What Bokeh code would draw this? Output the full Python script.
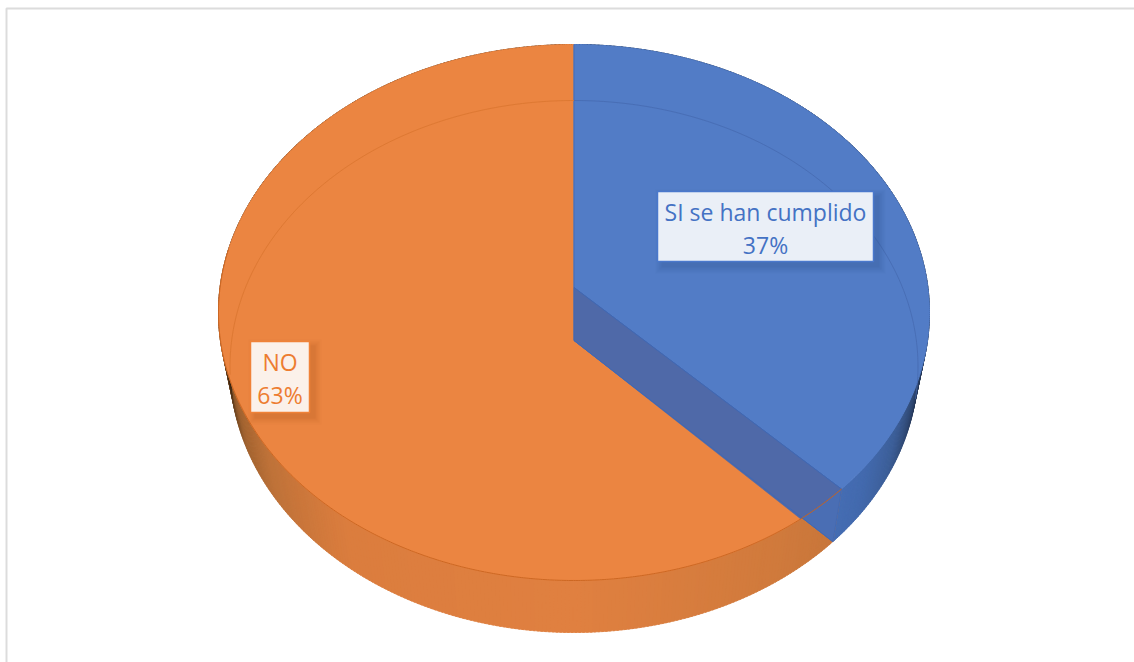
import numpy as np
from bokeh.core.properties import value
from bokeh.embed import file_html
from bokeh.models import Range1d
from bokeh.plotting import figure
from bokeh.resources import INLINE

# Survey answers, in percent, starting at twelve o'clock and running clockwise
categories = ["SI se han cumplido", "NO"]
shares = [37, 63]

WIDTH, HEIGHT = 1134, 662
CX = 573.5
TOP = dict(cy=312.0, rx=355.5, ry=268.0, hub=287.0)
BASE = dict(cy=366.0, rx=344.0, ry=266.0, hub=340.0)
PERSPECTIVE = 0.047

ORANGE_TOP, BLUE_TOP = "#EB8541", "#527CC6"
ORANGE_EDGE, BLUE_EDGE = "#C9641F", "#3F68B4"
WALL, WALL_LOWER = "#4F69A8", "#4A6EB4"

# Side-wall shading stops: rim angle in degrees and colour
BLUE_SHADE = [(0, "#0C1420"), (88, "#0C1420"), (96, "#18253C"), (104, "#2B4066"),
              (115, "#3C5E98"), (125, "#436AAE"), (140, "#4872BA")]
ORANGE_SHADE = [(125, "#C4743A"), (145, "#D07A3C"), (180, "#E08040"), (220, "#DB7D3E"),
                (240, "#BE7239"), (252, "#A0622F"), (262, "#64401F"), (268, "#20150B"),
                (360, "#20150B")]


def rim_angle(theta):
    """Share angle to ellipse parameter, allowing for the tilt of the disc."""
    return np.arctan2(np.sin(theta) * np.sqrt(1 - PERSPECTIVE ** 2), np.cos(theta) + PERSPECTIVE)


def rim(phi, plane):
    return CX + plane["rx"] * np.sin(phi), plane["cy"] - plane["ry"] * np.cos(phi)


def shade(stops, deg):
    angles = [s[0] for s in stops]
    rgb = np.array([[int(s[1][i:i + 2], 16) for i in (1, 3, 5)] for s in stops], float)
    return "#%02x%02x%02x" % tuple(int(round(np.interp(deg, angles, rgb[:, c]))) for c in range(3))


split_theta = 2 * np.pi * shares[0] / sum(shares)
split = rim_angle(split_theta)
if split < 0:
    split += 2 * np.pi

p = figure(width=WIDTH, height=HEIGHT, x_range=Range1d(0, WIDTH), y_range=Range1d(HEIGHT, 0),
           output_backend="svg", toolbar_location=None, min_border=0)
p.axis.visible = False
p.grid.visible = False
p.outline_line_color = None
p.background_fill_color = "white"
p.border_fill_color = "white"

# Chart frame: only the top and left edges fall inside the page
p.line([6, 6, WIDTH], [HEIGHT, 8, 8], line_color="#DCDCDC", line_width=2)


def side_strips(start, stop, stops):
    edges = np.linspace(start, stop, int((stop - start) * 90) + 2)
    xs, ys, colors = [], [], []
    for a, b in zip(edges[:-1], edges[1:]):
        b2 = min(b + 0.006, stop)
        xa, ya = rim(a, TOP)
        xb, yb = rim(b2, TOP)
        xc, yc = rim(b2, BASE)
        xd, yd = rim(a, BASE)
        xs.append([xa, xb, xc, xd])
        ys.append([ya, yb, yc, yd])
        colors.append(shade(stops, np.degrees((a + b) / 2)))
    p.patches(xs, ys, fill_color=colors, line_color=colors, line_width=0.6)


side_strips(0, split, BLUE_SHADE)
side_strips(split, 2 * np.pi, ORANGE_SHADE)

# Top surface of both slices
arc_blue = np.linspace(0, split, 300)
arc_orange = np.linspace(split, 2 * np.pi, 600)
bx, by = rim(arc_blue, TOP)
ox, oy = rim(arc_orange, TOP)
p.patch(np.r_[CX, ox], np.r_[TOP["hub"], oy], fill_color=ORANGE_TOP, line_color=ORANGE_TOP, line_width=1)
p.line(ox[:400], oy[:400], line_color=ORANGE_EDGE, line_width=1, line_alpha=0.9)
p.patch(np.r_[CX, bx], np.r_[TOP["hub"], by], fill_color=BLUE_TOP, line_color=BLUE_TOP, line_width=1)

# Cut face of the blue slice, standing in front of the orange surface
sx_top, sy_top = rim(split, TOP)
sx_base, sy_base = rim(split, BASE)
p.patch([CX, sx_top, sx_base, CX], [TOP["hub"], sy_top, sy_base, BASE["hub"]],
        fill_color=WALL_LOWER, line_color=WALL_LOWER, line_width=0.8)

# The part of the face that lies behind the rim of the top surface is a shade darker
t = (ox - CX) / (sx_base - CX)
below = oy - (BASE["hub"] + t * (sy_base - BASE["hub"]))
cross = int(np.argmax(below > 0))
p.patch(np.r_[CX, ox[:cross + 1], CX], np.r_[TOP["hub"], oy[:cross + 1], BASE["hub"]],
        fill_color=WALL, line_color=WALL, line_width=0.5)

# Edges of the cut face
p.line([CX, sx_top], [TOP["hub"], sy_top], line_color=BLUE_EDGE, line_width=1)
p.line([CX, CX], [44, BASE["hub"]], line_color=BLUE_EDGE, line_width=1, line_alpha=0.75)
p.line([CX, sx_base], [BASE["hub"], sy_base], line_color=BLUE_EDGE, line_width=1)
p.line([sx_top, sx_base], [sy_top, sy_base], line_color=BLUE_EDGE, line_width=1, line_alpha=0.8)
p.line(ox[:cross + 1], oy[:cross + 1], line_color=ORANGE_EDGE, line_width=1)

# Base rim showing faintly through the translucent top
fb = np.linspace(split, 2 * np.pi, 400)
xf, yf = rim(fb, BASE)
keep = yf < 375
p.line(xf[keep], yf[keep], line_color="#D9762F", line_width=1, line_alpha=0.8)
fb = np.linspace(0, np.radians(97), 120)
xf, yf = rim(fb, BASE)
p.line(xf, yf, line_color="#4468AE", line_width=1, line_alpha=0.7)


def label_box(left, right, top, bottom, fill, edge, shadow, lines, color, centre):
    for grow, alpha in ((7, 0.05), (5, 0.07), (3, 0.09), (1, 0.12)):
        p.quad(left=left + 5 - grow, right=right + 5 + grow, top=top + 5 - grow, bottom=bottom + 5 + grow,
               fill_color=shadow, fill_alpha=alpha, line_color=None)
    p.quad(left=left, right=right, top=top, bottom=bottom, fill_color=fill,
           line_color=edge, line_width=1.5)
    for text, y in lines:
        p.text([centre], [y], text=[text], text_color=color, text_font=value("Open Sans"),
               text_font_size="23px", text_align="center", text_baseline="middle")


label_box(657, 873, 191, 261, "#EAEFF7", "#4A78CC", "#2F4F8F",
          [(categories[0], 211), (f"{shares[0]}%", 244)], "#4472C4", 765)
label_box(250, 309, 341, 412, "#FBF1EA", "#F08238", "#B05A20",
          [(categories[1], 361), (f"{shares[1]}%", 394)], "#ED7D31", 279.5)

open("out.html", "w").write(file_html(p, INLINE))
